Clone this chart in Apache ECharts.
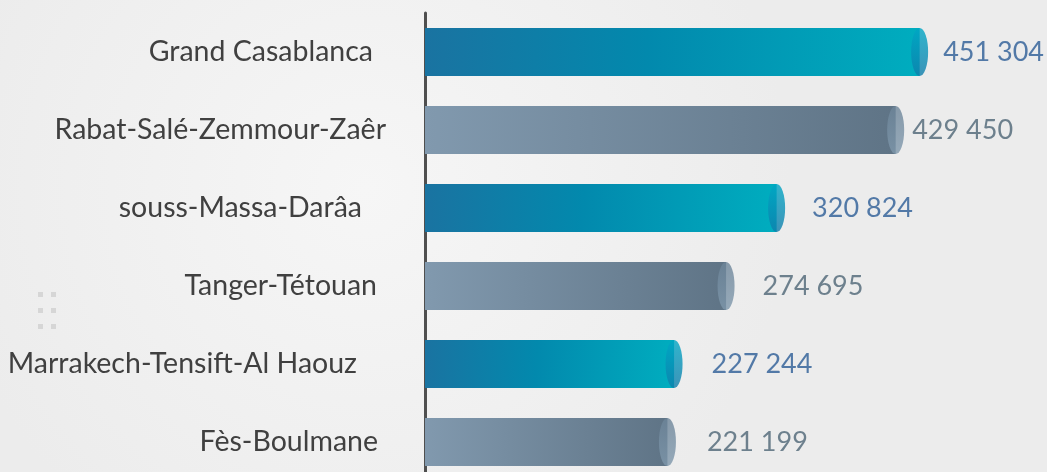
<!DOCTYPE html>
<html>
<head>
<meta charset="utf-8">
<script src="https://cdn.jsdelivr.net/npm/echarts@6/dist/echarts.min.js"></script>
<style>
html,body{margin:0;padding:0;}
#c{width:1047px;height:472px;}
</style>
</head>
<body>
<div id="c"></div>
<script>
const categories = ['Grand Casablanca', 'Rabat-Salé-Zemmour-Zaêr', 'souss-Massa-Darâa', 'Tanger-Tétouan', 'Marrakech-Tensift-Al Haouz', 'Fès-Boulmane'];
const values = [451304, 429450, 320824, 274695, 227244, 221199];

// styling (label nudges, not data)
const catLabelShift = [13, 0, 24, 9, 29, 8];
const valLabelGap = [15, 8, 27, 28, 29, 31];
const FONT = 'Lato';

function fmt(v){ return String(v).replace(/\B(?=(\d{3})+(?!\d))/g, ' '); }

const G = echarts.graphic.LinearGradient;
function bodyColor(i){
  if (i % 2 === 0) return new G(0,0,1,0.3,[{offset:0,color:'#1a73a1'},{offset:0.45,color:'#0289ad'},{offset:1,color:'#00adbf'}]);
  return new G(0,0,1,0,[{offset:0,color:'#8199ae'},{offset:1,color:'#5f7486'}]);
}
function capColor(i){
  if (i % 2 === 0) return new G(0,0,0,1,[{offset:0,color:'#00a6c4'},{offset:1,color:'#0f7dab'}]);
  return new G(0,0,0,1,[{offset:0,color:'#6d8599'},{offset:1,color:'#7f98ac'}]);
}
const labelColors = ['#2c5c96', '#4e6576'];

const chart = echarts.init(document.getElementById('c'), null, {renderer:'canvas'});
chart.setOption({
  backgroundColor: new echarts.graphic.RadialGradient(0.35,0.4,0.9,[{offset:0,color:'#f6f6f6'},{offset:1,color:'#ececec'}]),
  animation: false,
  grid: {left: 425, width: 548, top: 13, height: 468, containLabel: false, outerBoundsMode: 'none'},
  xAxis: {type:'value', min:0, max:500000, show:false},
  yAxis: {
    type:'category', inverse:true,
    data: categories.map((c,i)=>({value:c, textStyle:{padding:[0, catLabelShift[i], 0, 0]}})),
    axisLine:{show:true, lineStyle:{color:'#4f4f4f', width:3}},
    axisTick:{show:false},
    splitLine:{show:false},
    axisLabel:{fontFamily:FONT, fontSize:28.5, color:'#404040', margin:39}
  },
  graphic: [
    {type:'group', left:38, top:292, children:[
      {type:'rect', shape:{x:0,y:0,width:5,height:5}, style:{fill:'#d6d6d6'}},
      {type:'rect', shape:{x:13,y:0,width:5,height:5}, style:{fill:'#d6d6d6'}},
      {type:'rect', shape:{x:0,y:16,width:5,height:5}, style:{fill:'#d6d6d6'}},
      {type:'rect', shape:{x:13,y:16,width:5,height:5}, style:{fill:'#d6d6d6'}},
      {type:'rect', shape:{x:0,y:32,width:5,height:5}, style:{fill:'#d6d6d6'}},
      {type:'rect', shape:{x:13,y:32,width:5,height:5}, style:{fill:'#d6d6d6'}}
    ]}
  ],
  series: [
    {
      type:'bar', barWidth:48,
      data: values.map((v,i)=>({value:v, itemStyle:{color: bodyColor(i)}})),
      z: 2
    },
    {
      type:'scatter', symbol:'circle', symbolSize:[17,48],
      data: values.map((v,i)=>({value:[v,i], itemStyle:{color: capColor(i)},
        label:{color: labelColors[i%2], distance: valLabelGap[i]}})),
      label:{show:true, position:'right', fontFamily:FONT, fontSize:27,
        formatter: p => fmt(p.value[0])},
      z: 3
    }
  ]
});
</script>
</body>
</html>
